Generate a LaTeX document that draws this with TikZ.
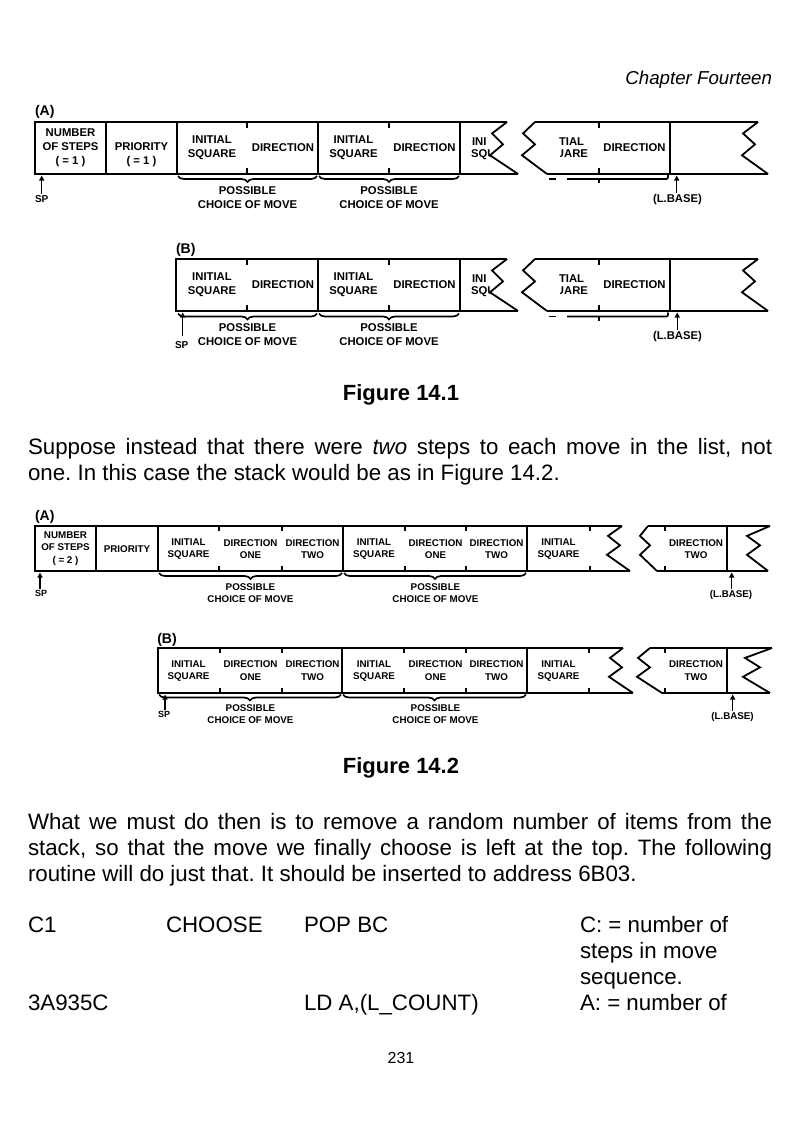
\documentclass[tikz,border=0pt]{standalone}
\usepackage{fontspec}
\setmainfont{Liberation Sans}
\usetikzlibrary{arrows.meta,decorations.pathreplacing}
\newcommand\zigzagbreak[7]{\draw[zl] (#1,#6) -- (#2,{#6+0.22*(#7-#6)}) -- (#3,{#6+0.43*(#7-#6)}) -- (#4,{#6+0.64*(#7-#6)}) -- (#5,#7);}
\frenchspacing
\begin{document}
\begin{tikzpicture}[x=1pt,y=-1pt,
  every node/.style={inner sep=0pt, outer sep=0pt},
  ol/.style={line width=1.9pt, line join=miter},
  dv/.style={line width=1.8pt},
  tk/.style={line width=1.8pt},
  zl/.style={line width=1.8pt, line join=miter, miter limit=20},
  brc/.style={line width=1.7pt, decorate, decoration={brace, mirror, amplitude=6pt}},
  bl/.style={line width=1.7pt},
  upar/.style={line width=1.4pt, -{Triangle[length=5pt,width=5pt]}},
  ta/.style={font=\fontsize{11.3}{14}\selectfont\bfseries, align=center},
  tb/.style={font=\fontsize{9.8}{12.4}\selectfont\bfseries, align=center},
  pl/.style={font=\fontsize{14}{16}\selectfont\bfseries, anchor=west},
  spa/.style={font=\fontsize{10}{12}\selectfont\bfseries},
  spb/.style={font=\fontsize{9}{11}\selectfont\bfseries},
  body/.style={font=\fontsize{22.3}{26}\selectfont, anchor=base west},
  figcap/.style={font=\fontsize{22}{26}\selectfont\bfseries, anchor=base},
]
\useasboundingbox (0,0) rectangle (800,1135);

% ---------------- header
\node[font=\fontsize{18.7}{22}\selectfont\itshape, anchor=base east] (hdr) at (772,84) {Chapter Fourteen};

% ================= Figure 14.1 (A)
\node[pl] (la1) at (35,112) {(A)};
\draw[ol] (507,122) -- (35,122) -- (35,174) -- (518,174);
\zigzagbreak{507}{492}{503}{490}{518}{122}{174}
\draw[ol] (535,122) -- (758,122);
\draw[ol] (547,174) -- (768,174);
\zigzagbreak{535}{523}{535}{522}{547}{122}{174}
\zigzagbreak{758}{743}{755}{742}{768}{122}{174}
\foreach \x in {106,177,318,460,670} \draw[dv] (\x,122) -- (\x,174);
\foreach \x in {247,389,599} {\draw[tk] (\x,122) -- (\x,128); \draw[tk] (\x,174) -- (\x,168);}
\node[ta] (a1ns) at (70.5,148) {NUMBER\\OF STEPS\\( = 1 )};
\node[ta] (a1pr) at (141.5,154.7) {PRIORITY\\( = 1 )};
\node[ta] (a1is1) at (212,148) {INITIAL\\SQUARE};
\node[ta] (a1d1) at (283,148) {DIRECTION};
\node[ta] (a1is2) at (353.5,148) {INITIAL\\SQUARE};
\node[ta] (a1d2) at (424.5,148) {DIRECTION};
\node[ta, anchor=west] (a1ini) at (472,141.7) {INI};
\begin{scope}\clip (462,149) rectangle (491,163);
\node[ta, anchor=west] (a1squ) at (471,155) {SQUARE};
\end{scope}
\node[ta, anchor=west] (a1tial) at (559,141.7) {TIAL};
\begin{scope}\clip (560,149) rectangle (598,163);
\node[ta, anchor=east] (a1jare) at (588,155) {SQUARE};
\end{scope}
\node[ta] (a1d4) at (634.5,148) {DIRECTION};
\draw[brc] (178,176) -- (317,176);
\draw[brc] (319,176) -- (459,176);
\draw[bl] (549,179) -- (556,179);
\draw[bl] (567,179) -- (664,179) .. controls (668,179) .. (668,175);
\draw[bl] (599,179) -- (599,183);
\node[ta] (a1pc1) at (247.5,198) {POSSIBLE\\CHOICE OF MOVE};
\node[ta] (a1pc2) at (389,198) {POSSIBLE\\CHOICE OF MOVE};
\node[spa, anchor=west] (a1sp) at (35,199) {SP};
\coordinate (a1spt) at (41.7,175.5);
\draw[upar] (a1sp.north -| a1spt) ++(0,-1.5) -- (a1spt);
\node[ta] (a1lb) at (677.5,199.3) {(L.BASE)};
\coordinate (a1lbt) at (676.7,175.5);
\draw[upar] (a1lb.north -| a1lbt) ++(0,-1.5) -- (a1lbt);

% ================= Figure 14.1 (B)
\node[pl] (lb1) at (176,250) {(B)};
\draw[ol] (507,259) -- (176,259) -- (176,311) -- (518,311);
\zigzagbreak{507}{492}{503}{490}{518}{259}{311}
\draw[ol] (535,259) -- (758,259);
\draw[ol] (547,311) -- (768,311);
\zigzagbreak{535}{523}{535}{522}{547}{259}{311}
\zigzagbreak{758}{743}{755}{742}{768}{259}{311}
\foreach \x in {318,460,670} \draw[dv] (\x,259) -- (\x,311);
\foreach \x in {247,389,599} {\draw[tk] (\x,259) -- (\x,265); \draw[tk] (\x,311) -- (\x,305);}
\node[ta] (b1is1) at (212,285) {INITIAL\\SQUARE};
\node[ta] (b1d1) at (283,285) {DIRECTION};
\node[ta] (b1is2) at (353.5,285) {INITIAL\\SQUARE};
\node[ta] (b1d2) at (424.5,285) {DIRECTION};
\node[ta, anchor=west] (b1ini) at (472,278.3) {INI};
\begin{scope}\clip (462,286) rectangle (491,300);
\node[ta, anchor=west] (b1squ) at (471,291.7) {SQUARE};
\end{scope}
\node[ta, anchor=west] (b1tial) at (559,278.3) {TIAL};
\begin{scope}\clip (560,286) rectangle (598,300);
\node[ta, anchor=east] (b1jare) at (588,291.7) {SQUARE};
\end{scope}
\node[ta] (b1d4) at (634.5,285) {DIRECTION};
\draw[brc] (178,313.5) -- (317,313.5);
\draw[brc] (319,313.5) -- (459,313.5);
\draw[bl] (549,316.5) -- (556,316.5);
\draw[bl] (567,316.5) -- (664,316.5) .. controls (668,316.5) .. (668,312.5);
\draw[bl] (599,316.5) -- (599,320.5);
\node[ta] (b1pc1) at (247.5,335) {POSSIBLE\\CHOICE OF MOVE};
\node[ta] (b1pc2) at (389,335) {POSSIBLE\\CHOICE OF MOVE};
\node[spa, anchor=west] (b1sp) at (175,345) {SP};
\coordinate (b1spt) at (182.7,312.5);
\coordinate (b1spb) at (182.7,336);
\draw[upar] (b1spb) -- (b1spt);
\node[ta] (b1lb) at (677.5,336.7) {(L.BASE)};
\coordinate (b1lbt) at (677.3,312.5);
\draw[upar] (b1lb.north -| b1lbt) ++(0,-1.5) -- (b1lbt);

\node[figcap] (cap1) at (401,400.5) {Figure 14.1};

\node[body] (p1l1) at (28,454) {\makebox[744pt][s]{Suppose instead that there were \textit{two} steps to each move in the list, not}};
\node[body] (p1l2) at (28,480) {one. In this case the stack would be as in Figure 14.2.};

% ================= Figure 14.2 (A)
\node[pl] (la2) at (35,517.3) {(A)};
\draw[ol] (622,526) -- (35,526) -- (35,571) -- (630,571);
\zigzagbreak{622}{608}{620}{607}{630}{526}{571}
\draw[ol] (648,526) -- (770,526);
\draw[ol] (657,571) -- (768,571);
\zigzagbreak{648}{640}{650}{640}{657}{526}{571}
\zigzagbreak{770}{747}{760}{747}{768}{526}{571}
\foreach \x in {96,158,343,527,727} \draw[dv] (\x,526) -- (\x,571);
\foreach \x in {219,282,405,466,590,665} {\draw[tk] (\x,526) -- (\x,531); \draw[tk] (\x,571) -- (\x,566);}
\node[tb] (a2ns) at (65.5,548.5) {NUMBER\\OF STEPS\\( = 2 )};
\node[tb] (a2pr) at (127,549) {PRIORITY};
\node[tb] (a2is1) at (188.5,549) {INITIAL\\SQUARE};
\node[tb] (a2do1) at (250.5,549) {DIRECTION\\ONE};
\node[tb] (a2dt1) at (312.5,549) {DIRECTION\\TWO};
\node[tb] (a2is2) at (374,549) {INITIAL\\SQUARE};
\node[tb] (a2do2) at (435.5,549) {DIRECTION\\ONE};
\node[tb] (a2dt2) at (496.5,549) {DIRECTION\\TWO};
\node[tb] (a2is3) at (558.5,549) {INITIAL\\SQUARE};
\node[tb] (a2dt4) at (696,549) {DIRECTION\\TWO};
\draw[brc] (159,573) -- (342,573);
\draw[brc] (344,573) -- (526,573);
\node[tb] (a2pc1) at (250.5,593) {POSSIBLE\\CHOICE OF MOVE};
\node[tb] (a2pc2) at (435.5,593) {POSSIBLE\\CHOICE OF MOVE};
\node[spb, anchor=west] (a2sp) at (35,593.3) {SP};
\coordinate (a2spt) at (40,572.5);
\draw[upar] (a2sp.north -| a2spt) ++(0,-1.5) -- (a2spt);
\node[tb] (a2lb) at (731,595) {(L.BASE)};
\coordinate (a2lbt) at (731.7,572.5);
\draw[upar] (a2lb.north -| a2lbt) ++(0,-1.5) -- (a2lbt);

% ================= Figure 14.2 (B)
\node[pl] (lb2) at (157.3,640) {(B)};
\draw[ol] (623,648) -- (158,648) -- (158,693) -- (633,693);
\zigzagbreak{623}{610}{622}{609}{633}{648}{693}
\draw[ol] (650,648) -- (772,648);
\draw[ol] (662,693) -- (770,693);
\zigzagbreak{650}{638}{650}{637}{662}{648}{693}
\zigzagbreak{772}{745}{760}{743}{770}{648}{693}
\foreach \x in {342,527,727} \draw[dv] (\x,648) -- (\x,693);
\foreach \x in {220,282,404,466,589,665} {\draw[tk] (\x,648) -- (\x,653); \draw[tk] (\x,693) -- (\x,688);}
\node[tb] (b2is1) at (188.5,670.8) {INITIAL\\SQUARE};
\node[tb] (b2do1) at (250.5,670.8) {DIRECTION\\ONE};
\node[tb] (b2dt1) at (312.5,670.8) {DIRECTION\\TWO};
\node[tb] (b2is2) at (374,670.8) {INITIAL\\SQUARE};
\node[tb] (b2do2) at (435.5,670.8) {DIRECTION\\ONE};
\node[tb] (b2dt2) at (496.5,670.8) {DIRECTION\\TWO};
\node[tb] (b2is3) at (558.5,670.8) {INITIAL\\SQUARE};
\node[tb] (b2dt4) at (696,670.8) {DIRECTION\\TWO};
\draw[brc] (159,694.5) -- (341,694.5);
\draw[brc] (343,694.5) -- (526,694.5);
\node[tb] (b2pc1) at (250.5,714.2) {POSSIBLE\\CHOICE OF MOVE};
\node[tb] (b2pc2) at (435.5,714.2) {POSSIBLE\\CHOICE OF MOVE};
\node[spb, anchor=west] (b2sp) at (158,714) {SP};
\coordinate (b2spt) at (165,694.5);
\draw[upar] (b2sp.north -| b2spt) ++(0,-1) -- (b2spt);
\node[tb] (b2lb) at (732.5,716.7) {(L.BASE)};
\coordinate (b2lbt) at (732.7,694.5);
\draw[upar] (b2lb.north -| b2lbt) ++(0,-1.5) -- (b2lbt);

\node[figcap] (cap2) at (401,773) {Figure 14.2};

\node[body] (p2l1) at (28,829) {\makebox[744pt][s]{What we must do then is to remove a random number of items from the}};
\node[body] (p2l2) at (28,855) {\makebox[744pt][s]{stack, so that the move we finally choose is left at the top. The following}};
\node[body] (p2l3) at (28,881) {routine will do just that. It should be inserted to address 6B03.};

% ================= code
\node[body] (c1a) at (28,932) {C1};
\node[body] (c1b) at (166,932) {CHOOSE};
\node[body] (c1c) at (304,932) {POP BC};
\node[body] (c1d) at (580,932) {C: = number of};
\node[body] (c2d) at (580,958) {steps in move};
\node[body] (c3d) at (580,984) {sequence.};
\node[body] (c4a) at (28,1010) {3A935C};
\node[body] (c4c) at (304,1010) {LD A,(L\_COUNT)};
\node[body] (c4d) at (580,1010) {A: = number of};

\node[font=\fontsize{16}{18}\selectfont, anchor=base] (pg) at (401,1063) {231};
\end{tikzpicture}
\end{document}
